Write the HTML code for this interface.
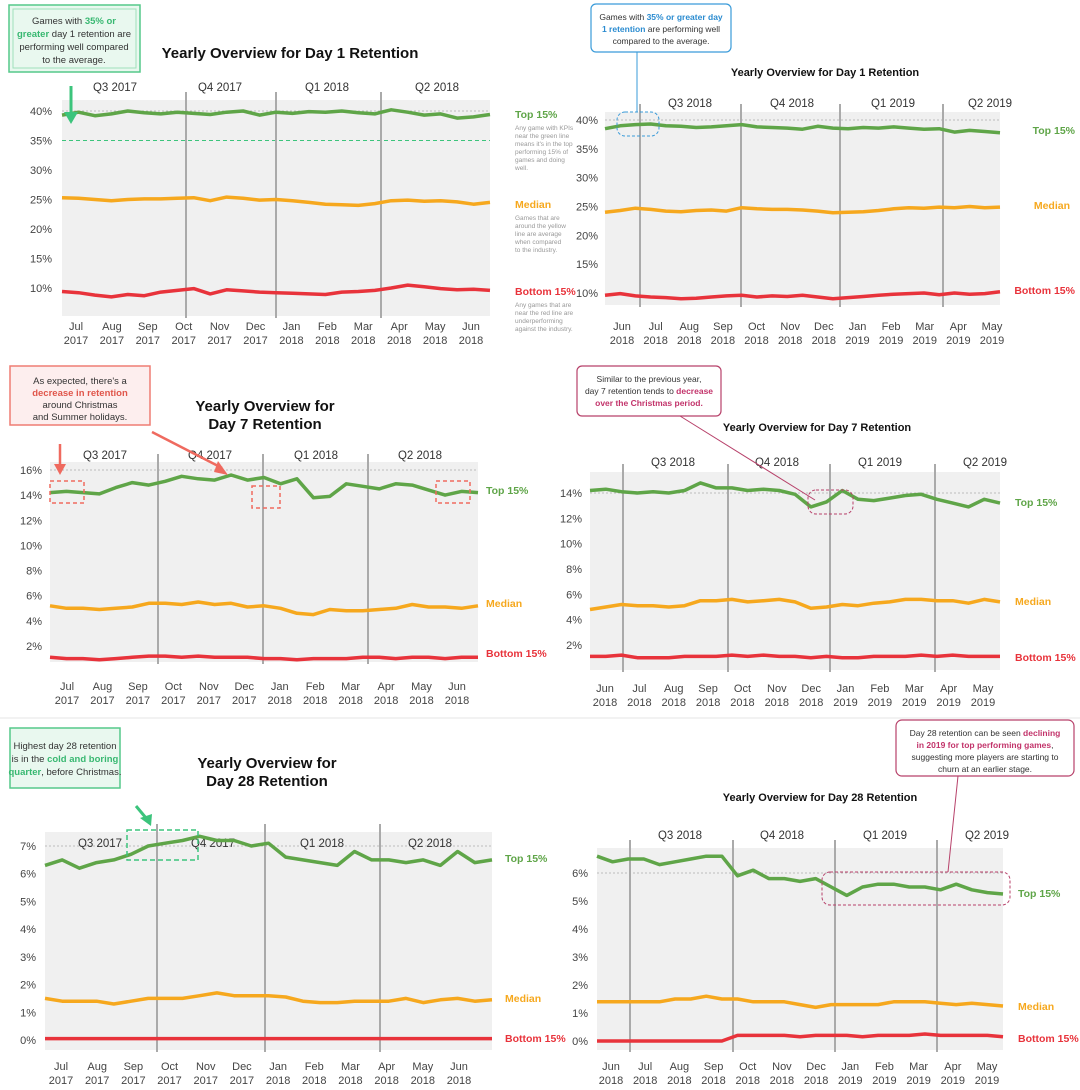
<!DOCTYPE html>
<html><head><meta charset="utf-8"><style>
html,body{margin:0;padding:0;background:#fff;}
svg{display:block;font-family:"Liberation Sans",sans-serif;}
</style></head><body>
<svg id="root" width="1080" height="1090" viewBox="0 0 1080 1090">
<g id="charts"></g>
<line x1="0" y1="718" x2="1080" y2="718" stroke="#e6e6e6"/>
<g>
<rect x="9" y="5" width="131" height="67" fill="#e9f8ef" stroke="#55c98a" stroke-width="1.5"/>
<rect x="13" y="9" width="123" height="59" fill="none" stroke="#9fe0bb" stroke-width="1"/>
<text x="74" y="24" font-size="9.5" text-anchor="middle" fill="#333">Games with <tspan fill="#38b871" font-weight="bold">35% or</tspan></text>
<text x="74" y="37" font-size="9.5" text-anchor="middle" fill="#333"><tspan fill="#38b871" font-weight="bold">greater</tspan> day 1 retention are</text>
<text x="74" y="50" font-size="9.5" text-anchor="middle" fill="#333">performing well compared</text>
<text x="74" y="63" font-size="9.5" text-anchor="middle" fill="#333">to the average.</text>
<line x1="71" y1="86" x2="71" y2="116" stroke="#3cc47c" stroke-width="3"/>
<polygon points="64,112 78,112 71,124" fill="#3cc47c"/>
</g>
<g>
<rect x="591" y="4" width="140" height="48" rx="5" fill="#fff" stroke="#3a9bd9" stroke-width="1.2"/>
<text x="661" y="20" font-size="8.5" text-anchor="middle" fill="#333">Games with <tspan fill="#2a8bd0" font-weight="bold">35% or greater day</tspan></text>
<text x="661" y="32" font-size="8.5" text-anchor="middle" fill="#333"><tspan fill="#2a8bd0" font-weight="bold">1 retention</tspan> are performing well</text>
<text x="661" y="44" font-size="8.5" text-anchor="middle" fill="#333">compared to the average.</text>
<line x1="637" y1="52" x2="637" y2="112" stroke="#3a9bd9" stroke-width="1"/>
<rect x="617" y="112" width="42" height="24" rx="8" fill="none" stroke="#3a9bd9" stroke-dasharray="3,2"/>
</g>
<g>
<rect x="10" y="366" width="140" height="59" fill="#fdeeee" stroke="#ef7d73" stroke-width="1.5"/>
<text x="80" y="384" font-size="9.5" text-anchor="middle" fill="#333">As expected, there's a</text>
<text x="80" y="396" font-size="9.5" text-anchor="middle" fill="#e0564b" font-weight="bold">decrease in retention</text>
<text x="80" y="408" font-size="9.5" text-anchor="middle" fill="#333">around Christmas</text>
<text x="80" y="420" font-size="9.5" text-anchor="middle" fill="#333">and Summer holidays.</text>
<line x1="60" y1="444" x2="60" y2="466" stroke="#ef6a5f" stroke-width="2.5"/>
<polygon points="54,464 66,464 60,475" fill="#ef6a5f"/>
<line x1="152" y1="432" x2="222" y2="468" stroke="#ef6a5f" stroke-width="2.5"/>
<polygon points="218,461 228,475 214,472" fill="#ef6a5f"/>
<rect x="50" y="481" width="34" height="22" fill="none" stroke="#ef6a5f" stroke-width="1.5" stroke-dasharray="4,3"/>
<rect x="252" y="486" width="28" height="22" fill="none" stroke="#ef6a5f" stroke-width="1.5" stroke-dasharray="4,3"/>
<rect x="436" y="481" width="34" height="22" fill="none" stroke="#ef6a5f" stroke-width="1.5" stroke-dasharray="4,3"/>
</g>
<g>
<rect x="577" y="366" width="144" height="50" rx="5" fill="#fff" stroke="#b7416a" stroke-width="1.2"/>
<text x="649" y="382" font-size="8.5" text-anchor="middle" fill="#333">Similar to the previous year,</text>
<text x="649" y="394" font-size="8.5" text-anchor="middle" fill="#333">day 7 retention tends to <tspan fill="#c2336a" font-weight="bold">decrease</tspan></text>
<text x="649" y="406" font-size="8.5" text-anchor="middle" fill="#c2336a" font-weight="bold">over the Christmas period.</text>
<line x1="680" y1="416" x2="815" y2="500" stroke="#b7416a" stroke-width="1"/>
<rect x="808" y="490" width="45" height="24" rx="8" fill="none" stroke="#b7416a" stroke-dasharray="3,2"/>
</g>
<g>
<rect x="10" y="728" width="110" height="60" fill="#e9f8ef" stroke="#55c98a" stroke-width="1.5"/>
<text x="65" y="749" font-size="9.5" text-anchor="middle" fill="#333">Highest day 28 retention</text>
<text x="65" y="762" font-size="9.5" text-anchor="middle" fill="#333">is in the <tspan fill="#38b871" font-weight="bold">cold and boring</tspan></text>
<text x="65" y="775" font-size="9.5" text-anchor="middle" fill="#333"><tspan fill="#38b871" font-weight="bold">quarter</tspan>, before Christmas.</text>
<line x1="136" y1="806" x2="146" y2="818" stroke="#3cc47c" stroke-width="3"/>
<polygon points="140,818 152,814 151,826" fill="#3cc47c"/>
<rect x="127" y="830" width="71" height="30" fill="none" stroke="#3cc47c" stroke-width="1.5" stroke-dasharray="5,3"/>
</g>
<g>
<rect x="896" y="720" width="178" height="56" rx="6" fill="#fff" stroke="#b7416a" stroke-width="1.2"/>
<text x="985" y="736" font-size="8.5" text-anchor="middle" fill="#333">Day 28 retention can be seen <tspan fill="#c2336a" font-weight="bold">declining</tspan></text>
<text x="985" y="748" font-size="8.5" text-anchor="middle" fill="#c2336a" font-weight="bold">in 2019 for top performing games<tspan fill="#333" font-weight="normal">,</tspan></text>
<text x="985" y="760" font-size="8.5" text-anchor="middle" fill="#333">suggesting more players are starting to</text>
<text x="985" y="772" font-size="8.5" text-anchor="middle" fill="#333">churn at an earlier stage.</text>
<line x1="958" y1="776" x2="948" y2="872" stroke="#b7416a" stroke-width="1"/>
<rect x="822" y="872" width="188" height="33" rx="8" fill="none" stroke="#b7416a" stroke-dasharray="3,2"/>
</g>
</svg>
<script>
// ---- data ----
const c1Top=[39.3,39.8,39.2,39.5,40,39.7,39.5,39.8,39.6,39.4,39.8,40,39.3,39.8,39.6,39.9,39.8,40,39.7,39.5,40.2,39.8,39.3,39.5,38.8,39.0,39.4];
const c1Med=[25.3,25.2,25.0,24.8,25.0,25.1,25.1,25.2,25.3,24.8,25.4,25.2,24.9,25.0,24.8,24.5,24.2,24.1,24.0,24.3,24.8,24.9,24.7,24.8,24.6,24.2,24.5];
const c1Bot=[9.4,9.2,8.8,8.5,8.9,8.7,9.3,9.6,9.9,9.0,9.7,9.5,9.3,9.2,9.1,9.0,8.9,9.3,9.4,9.6,10.0,10.5,10.2,9.9,9.7,9.8,9.6];
const c2Top=[38.5,39.0,39.2,39.3,39.0,38.9,38.7,38.8,39.0,39.2,38.8,38.7,38.6,38.4,38.9,38.6,38.5,38.7,38.6,38.8,38.6,38.4,38.5,37.9,38.2,38.0,37.8];
const c2Med=[24.0,24.3,24.7,24.5,24.2,24.1,24.3,24.4,24.2,24.8,24.6,24.5,24.5,24.4,24.2,23.9,24.0,24.1,24.3,24.6,24.8,24.7,24.9,24.8,25.0,24.8,24.9];
const c2Bot=[9.6,9.9,9.5,9.3,9.2,9.0,9.1,9.3,9.5,9.6,9.3,9.5,9.4,9.6,9.3,9.0,9.2,9.4,9.6,9.8,9.9,10.0,9.7,10.0,9.8,9.9,10.2];
const c3Top=[14.2,14.3,14.2,14.1,14.6,15.0,14.8,15.1,15.5,15.3,15.2,15.6,15.2,15.4,14.9,15.3,13.8,13.9,14.9,14.7,14.5,14.9,14.8,14.4,14.0,14.3,14.2];
const c3Med=[5.2,5.0,5.0,4.9,5.0,5.1,5.4,5.4,5.3,5.5,5.3,5.4,5.1,5.2,5.0,4.6,4.5,4.9,4.8,4.8,4.9,5.0,5.3,5.1,5.1,5.0,5.2];
const c3Bot=[1.1,1.0,1.0,0.9,1.0,1.1,1.2,1.2,1.1,1.2,1.1,1.1,1.1,1.0,1.0,0.9,1.0,1.0,1.0,1.1,1.1,1.0,1.1,1.1,1.0,1.1,1.1];
const c4Top=[14.2,14.3,14.1,14.0,14.1,14.0,14.2,14.8,14.4,14.4,14.2,14.3,14.2,13.9,12.9,13.3,14.2,13.5,13.4,13.6,13.8,13.9,13.5,13.2,12.9,13.5,13.2];
const c4Med=[4.8,5.0,5.2,5.1,5.1,5.0,5.1,5.5,5.5,5.6,5.4,5.5,5.6,5.4,4.9,5.0,5.2,5.1,5.3,5.4,5.6,5.6,5.5,5.5,5.3,5.6,5.4];
const c4Bot=[1.1,1.1,1.2,1.0,1.0,1.0,1.1,1.1,1.1,1.2,1.1,1.2,1.1,1.1,1.0,1.1,1.0,1.0,1.1,1.1,1.1,1.2,1.1,1.2,1.1,1.1,1.1];
const c5Top=[6.3,6.5,6.2,6.4,6.5,6.7,7.0,7.1,7.2,7.35,7.2,7.2,7.0,7.1,6.6,6.5,6.4,6.3,6.8,6.5,6.5,6.4,6.5,6.3,6.8,6.4,6.5];
const c5Med=[1.5,1.4,1.4,1.4,1.3,1.4,1.5,1.5,1.5,1.6,1.7,1.6,1.6,1.6,1.55,1.4,1.35,1.35,1.4,1.4,1.4,1.5,1.35,1.45,1.5,1.4,1.45];
const c5Bot=[0.05,0.05,0.05,0.05,0.05,0.05,0.05,0.05,0.05,0.05,0.05,0.05,0.05,0.05,0.05,0.05,0.05,0.05,0.05,0.05,0.05,0.05,0.05,0.05,0.05,0.05,0.05];
const c6Top=[6.6,6.4,6.5,6.5,6.3,6.4,6.5,6.6,6.6,5.9,6.1,5.8,5.8,5.7,5.8,5.5,5.2,5.5,5.6,5.6,5.5,5.5,5.4,5.6,5.4,5.3,5.25];
const c6Med=[1.4,1.4,1.4,1.4,1.4,1.5,1.5,1.6,1.5,1.5,1.4,1.4,1.4,1.3,1.2,1.3,1.3,1.3,1.3,1.4,1.4,1.4,1.35,1.3,1.35,1.3,1.25];
const c6Bot=[0,0,0,0,0,0,0,0,0,0.2,0.2,0.2,0.2,0.15,0.2,0.2,0.2,0.15,0.2,0.2,0.2,0.25,0.2,0.2,0.2,0.2,0.15];
const ticks1=[10,15,20,25,30,35,40];
const ticks7=[2,4,6,8,10,12,14,16];
const ticks7b=[2,4,6,8,10,12,14];
const ticks28=[0,1,2,3,4,5,6,7];
const ticks28b=[0,1,2,3,4,5,6];
const quartersA=["Q3 2017","Q4 2017","Q1 2018","Q2 2018"];
const quartersB=["Q3 2018","Q4 2018","Q1 2019","Q2 2019"];
const monthsA=["Jul","Aug","Sep","Oct","Nov","Dec","Jan","Feb","Mar","Apr","May","Jun"];
const yearsA=["2017","2017","2017","2017","2017","2017","2018","2018","2018","2018","2018","2018"];
const monthsB=["Jun","Jul","Aug","Sep","Oct","Nov","Dec","Jan","Feb","Mar","Apr","May"];
const yearsB=["2018","2018","2018","2018","2018","2018","2018","2019","2019","2019","2019","2019"];
const seriesNames=["Top 15%","Median","Bottom 15%"];

const NS="http://www.w3.org/2000/svg";
const root=document.getElementById('charts');
const COL=["#5fa548","#f6a81e","#e8333b"];
function mk(tag,attrs,parent){const e=document.createElementNS(NS,tag);for(const k in attrs)e.setAttribute(k,attrs[k]);(parent||root).appendChild(e);return e;}

const charts=[
 {id:"day1-left",x0:62,x1:490,by0:100,by1:316,v0:10,p0:288,v1:40,p1:111,ticks:ticks1,tx:52,qs:quartersA,qx:[115,220,327,437],qy:91,vl:[186,276,381],ms:monthsA,ys:yearsA,mx0:76,mx1:471,my:330,
  data:[c1Top,c1Med,c1Bot],lab:[[515,118],[515,208],[515,295]],anchor:'start',title:["Yearly Overview for Day 1 Retention"],tt:[290,58],tfs:15,
  notes:[["Any game with KPIs","near the green line","means it's in the top","performing 15% of","games and doing","well."],["Games that are","around the yellow","line are average","when compared","to the industry."],["Any games that are","near the red line are","underperforming","against the industry."]],ref:35},
 {id:"day1-right",x0:605,x1:1000,by0:112,by1:305,v0:10,p0:293,v1:40,p1:120,ticks:ticks1,tx:598,qs:quartersB,qx:[690,792,893,990],qy:107,vl:[640,741,840,943],ms:monthsB,ys:yearsB,mx0:622,mx1:992,my:330,
  data:[c2Top,c2Med,c2Bot],lab:[[1075,134],[1070,209],[1075,294]],anchor:'end',title:["Yearly Overview for Day 1 Retention"],tt:[825,76],tfs:11},
 {id:"day7-left",x0:50,x1:478,by0:462,by1:662,v0:2,p0:646,v1:16,p1:470,ticks:ticks7,tx:42,qs:quartersA,qx:[105,210,316,420],qy:459,vl:[158,263,368],ms:monthsA,ys:yearsA,mx0:67,mx1:457,my:690,
  data:[c3Top,c3Med,c3Bot],lab:[[486,494],[486,607],[486,657]],anchor:'start',title:["Yearly Overview for","Day 7 Retention"],tt:[265,411],tfs:15},
 {id:"day7-right",x0:590,x1:1000,by0:472,by1:670,v0:2,p0:645,v1:14,p1:493,ticks:ticks7b,tx:582,qs:quartersB,qx:[673,777,880,985],qy:466,vl:[623,728,830,935],ms:monthsB,ys:yearsB,mx0:605,mx1:983,my:692,
  data:[c4Top,c4Med,c4Bot],lab:[[1015,506],[1015,605],[1015,661]],anchor:'start',title:["Yearly Overview for Day 7 Retention"],tt:[817,431],tfs:11},
 {id:"day28-left",x0:45,x1:492,by0:832,by1:1050,v0:0,p0:1040,v1:7,p1:846,ticks:ticks28,tx:36,qs:quartersA,qx:[100,213,322,430],qy:847,vl:[157,265,380],ms:monthsA,ys:yearsA,mx0:61,mx1:459,my:1070,
  data:[c5Top,c5Med,c5Bot],lab:[[505,862],[505,1002],[505,1042]],anchor:'start',title:["Yearly Overview for","Day 28 Retention"],tt:[267,768],tfs:15},
 {id:"day28-right",x0:597,x1:1003,by0:848,by1:1050,v0:0,p0:1041,v1:6,p1:873,ticks:ticks28b,tx:588,qs:quartersB,qx:[680,782,885,987],qy:839,vl:[630,733,835,937],ms:monthsB,ys:yearsB,mx0:611,mx1:987,my:1070,
  data:[c6Top,c6Med,c6Bot],lab:[[1018,897],[1018,1010],[1018,1042]],anchor:'start',title:["Yearly Overview for Day 28 Retention"],tt:[820,801],tfs:11}
];

charts.forEach(c=>{
 const g=mk('g',{});
 
 
 const yS=v=>c.p0+(v-c.v0)*(c.p1-c.p0)/(c.v1-c.v0);
 const bg=mk('rect',{x:c.x0,y:c.by0,width:c.x1-c.x0,height:c.by1-c.by0,fill:"#f0f0f0"},g);
 
 
 c.title.forEach((t,i)=>{
  const e=mk('text',{x:c.tt[0],y:c.tt[1]+i*(c.tfs+3),'font-size':c.tfs,'font-weight':'bold','text-anchor':'middle',fill:'#111'},g);
  e.textContent=t;
  
  
 });
 const tmax=c.ticks[c.ticks.length-1];
 mk('line',{x1:c.x0,x2:c.x1,y1:yS(tmax),y2:yS(tmax),stroke:'#bbb','stroke-dasharray':'2,2'},g);
 if(c.ref!==undefined){
  const rl=mk('line',{x1:c.x0,x2:c.x1,y1:yS(c.ref),y2:yS(c.ref),stroke:'#3cc47c','stroke-dasharray':'4,3'},g);
  
  
 }
 c.ticks.forEach(t=>{
  const e=mk('text',{x:c.tx,y:yS(t)+4,'font-size':11,'text-anchor':'end',fill:'#444'},g);
  e.textContent=t+'%';
  
  
 });
 c.vl.forEach(x=>{
  const l=mk('line',{x1:x,x2:x,y1:c.by0-8,y2:c.by1+2,stroke:'#aaa','stroke-width':2},g);
  
  
 });
 c.qs.forEach((q,i)=>{
  const e=mk('text',{x:c.qx[i],y:c.qy,'font-size':11.5,'text-anchor':'middle',fill:'#333'},g);
  e.textContent=q;
  
  
 });
 c.ms.forEach((m,i)=>{
  const x=c.mx0+i*(c.mx1-c.mx0)/(c.ms.length-1);
  const e=mk('text',{x:x,y:c.my,'font-size':11,'text-anchor':'middle',fill:'#444'},g);
  e.textContent=m;
  
  
  const e2=mk('text',{x:x,y:c.my+14,'font-size':11,'text-anchor':'middle',fill:'#444'},g);
  e2.textContent=c.ys[i];
  
  
 });
 c.data.forEach((arr,si)=>{
  const n=arr.length;
  const pts=arr.map((v,i)=>(c.x0+i*(c.x1-c.x0)/(n-1)).toFixed(1)+','+yS(v).toFixed(1)).join(' ');
  const p=mk('polyline',{points:pts,fill:'none',stroke:COL[si],'stroke-width':3.5,'stroke-linejoin':'round'},g);
  
  
  const l=mk('text',{x:c.lab[si][0],y:c.lab[si][1],'font-size':10.5,'font-weight':'bold',fill:COL[si],'text-anchor':c.anchor},g);
  l.textContent=seriesNames[si];
  
  
  if(c.notes){
   c.notes[si].forEach((t,k)=>{
    const nt=mk('text',{x:c.lab[si][0],y:c.lab[si][1]+12+k*8,'font-size':6.5,fill:'#999'},g);
    nt.textContent=t;
    
    
   });
  }
 });
});
</script>
</body></html>
